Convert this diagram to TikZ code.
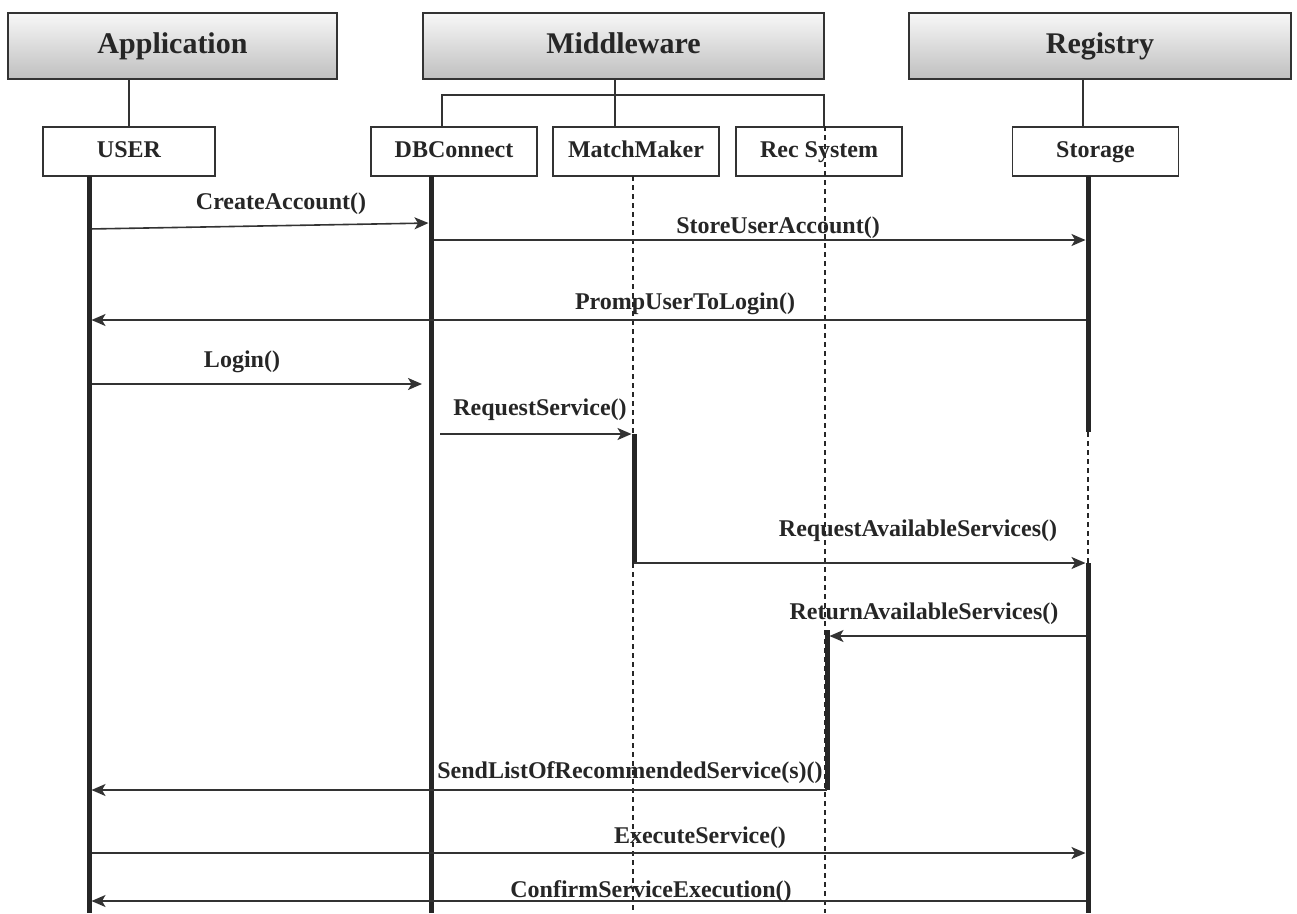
\documentclass[tikz,border=0pt]{standalone}
\usepackage{fontspec}
\setmainfont{Liberation Serif}
\usetikzlibrary{arrows.meta}
\begin{document}
\begin{tikzpicture}[x=1pt,y=-1pt,
  group/.style={draw=black!80, line width=1.3pt, top color=gray!6, bottom color=gray!50,
    minimum height=66pt, inner sep=0pt, text height=20pt, text depth=6pt,
    text=black!85, font=\fontsize{30}{34}\selectfont\bfseries},
  part/.style={draw=black!80, line width=1.3pt, fill=white, minimum width=166pt,
    minimum height=49pt, inner sep=0pt, text height=16pt, text depth=5pt,
    text=black!85, font=\fontsize{24}{28}\selectfont\bfseries},
  link/.style={black!80, line width=1.2pt},
  bar/.style={black!85, line width=5pt},
  life/.style={black!85, line width=1.2pt, dash pattern=on 5pt off 4pt},
  msg/.style={black!80, line width=1.6pt, -{Stealth[length=14pt,width=12pt,inset=3.5pt]}},
  lbl/.style={font=\fontsize{24}{28}\selectfont\bfseries, text=black!85, inner sep=0pt},
]
\useasboundingbox (0,0) rectangle (1297,913);

% group headers
\node[group, minimum width=329pt] (app) at (172.5,46) {Application};
\node[group, minimum width=401pt] (mid) at (623.5,46) {Middleware};
\node[group, minimum width=382pt] (reg) at (1100,46) {Registry};

% components
\node[part, minimum width=172pt] (user) at (129,151.5) {USER};
\node[part] (dbc) at (454,151.5) {DBConnect};
\node[part] (mm)  at (636,151.5) {MatchMaker};
\node[part] (rec) at (819,151.5) {Rec System};
\node[part] (sto) at (1095.5,151.5) {Storage};

% group-to-component links
\draw[link] (user.north) -- (user.north |- app.south);
\coordinate (mj)  at (615,95);
\coordinate (mjl) at (442,95);
\coordinate (mjr) at (824,95);
\draw[link] (mid.south -| mj) -- (mj) -- (mm.north -| mj);
\draw[link] (dbc.north -| mjl) -- (mjl) -- (mjr) -- (rec.north -| mjr);
\coordinate (rj) at (1083,95);
\draw[link] (reg.south -| rj) -- (sto.north -| rj);

% lifeline anchors
\coordinate (uL) at (89,176);
\coordinate (dL) at (431,176);
\coordinate (mL) at (633,176);
\coordinate (rL) at (825,176);
\coordinate (sL) at (1088,176);
\coordinate (bot) at (0,913);

% dashed lifelines
\draw[life] (mL) -- (mL |- bot);
\draw[life] (rec.north -| rL) -- (rL |- bot);
\draw[life] (sL |- 0,432) -- (sL |- 0,563);

% activation bars
\draw[bar] (uL) -- (uL |- bot);
\draw[bar] (dL) -- (dL |- bot);
\draw[bar] (sL) -- (sL |- 0,432);
\draw[bar] (sL |- 0,563) -- (sL |- bot);
\coordinate (mA) at (634,434);
\coordinate (mB) at (634,563);
\draw[bar] (mA) -- (mB);
\coordinate (rA) at (827,630);
\coordinate (rB) at (827,790);
\draw[bar] (rA) -- (rB);

% messages
\draw[msg, shorten <=2.5pt, shorten >=2.5pt] (uL |- 0,229) -- (dL |- 0,223);
\node[lbl] (t1) at (281,204) {CreateAccount()};

\draw[msg, shorten <=2.5pt, shorten >=2.5pt] (dL |- 0,240) -- (sL |- 0,240);
\node[lbl] (t2) at (778,228) {StoreUserAccount()};

\draw[msg, shorten <=2.5pt, shorten >=2.5pt] (sL |- 0,320) -- (uL |- 0,320);
\node[lbl] (t3) at (685,304) {PrompUserToLogin()};

\draw[msg, shorten <=2.5pt, shorten >=9pt] (uL |- 0,384) -- (dL |- 0,384);
\node[lbl] (t4) at (242,362) {Login()};

\draw[msg, shorten <=9pt, shorten >=2.5pt] (dL |- 0,434) -- (mA);
\node[lbl] (t5) at (540,410) {RequestService()};

\draw[msg, shorten >=2.5pt] (mB) -- (sL |- mB);
\node[lbl] (t6) at (918,531) {RequestAvailableServices()};

\draw[msg, shorten <=2.5pt, shorten >=2.5pt] (sL |- 0,636) -- (rA |- 0,636);
\node[lbl] (t7) at (924,614) {ReturnAvailableServices()};

\draw[msg, shorten >=2.5pt] (rB) -- (uL |- rB);
\node[lbl] (t8) at (630,773) {SendListOfRecommendedService(s)()};

\draw[msg, shorten <=2.5pt, shorten >=2.5pt] (uL |- 0,853) -- (sL |- 0,853);
\node[lbl] (t9) at (700,838) {ExecuteService()};

\draw[msg, shorten <=2.5pt, shorten >=2.5pt] (sL |- 0,901) -- (uL |- 0,901);
\node[lbl] (t10) at (651,892) {ConfirmServiceExecution()};
\end{tikzpicture}
\end{document}
